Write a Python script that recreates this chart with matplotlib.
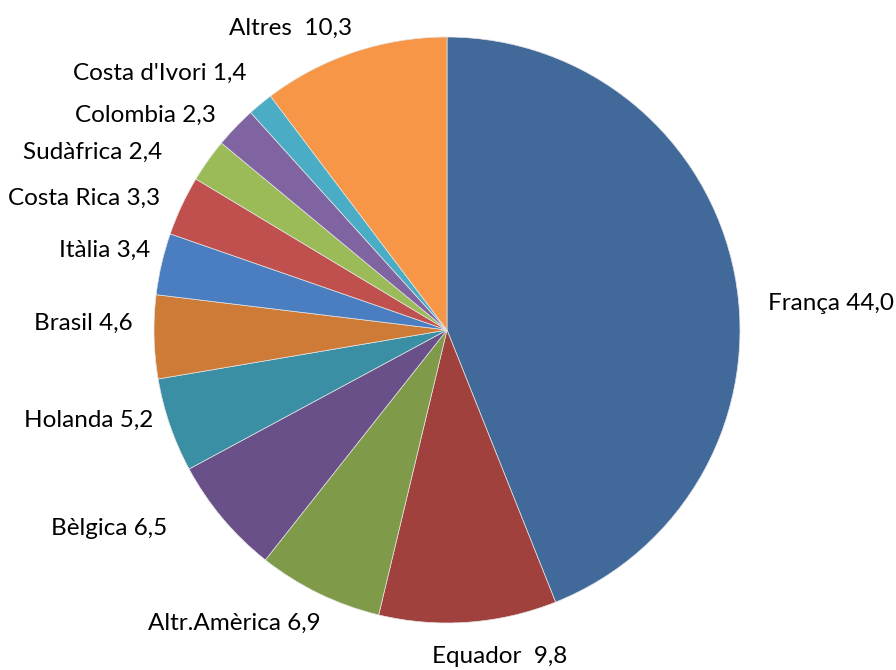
import matplotlib
matplotlib.use('Agg')
import matplotlib.pyplot as plt

# Pie data (percentages)
labels = ['França', 'Equador', 'Altr.Amèrica', 'Bèlgica', 'Holanda', 'Brasil',
          'Itàlia', 'Costa Rica', 'Sudàfrica', 'Colombia', "Costa d'Ivori", 'Altres']
values = [44.0, 9.8, 6.9, 6.5, 5.2, 4.6, 3.4, 3.3, 2.4, 2.3, 1.4, 10.3]
value_text = ['44,0', '9,8', '6,9', '6,5', '5,2', '4,6', '3,4', '3,3', '2,4', '2,3', '1,4', '10,3']
colors = ['#416A9B', '#A0413E', '#7F9A48', '#6A5088', '#3A8FA5', '#CF7B38',
          '#4A7EC0', '#C0504D', '#9BBB59', '#8064A2', '#4BACC6', '#F79646']

# label layout, in pie radius units (center = 0,0)
label_pos = [(1.096, 0.092, 'left'), (-0.051, -1.116, 'left'), (-0.433, -1.0, 'right'),
             (-0.956, -0.679, 'right'), (-1.003, -0.307, 'right'), (-1.072, 0.024, 'right'),
             (-1.014, 0.273, 'right'), (-0.980, 0.450, 'right'), (-0.973, 0.608, 'right'),
             (-0.788, 0.734, 'right'), (-0.683, 0.877, 'right'), (-0.324, 1.031, 'right')]
gap = {'Equador': '  ', 'Altres': '  '}

plt.rcParams['font.family'] = ['Lato', 'DejaVu Sans']

fig = plt.figure(figsize=(8.96, 6.70), dpi=100)
ax = fig.add_axes([0, 0, 1, 1])
ax.pie(values, colors=colors, startangle=90, counterclock=False, radius=1,
       wedgeprops=dict(edgecolor='#e4e4e4', linewidth=0.5))
ax.set_aspect('auto')
ax.set_xlim(-447 / 293, (896 - 447) / 293)
ax.set_ylim(-(670 - 330) / 293, 330 / 293)
ax.axis('off')

for lab, vt, (x, y, ha) in zip(labels, value_text, label_pos):
    ax.text(x, y, lab + gap.get(lab, ' ') + vt, ha=ha, va='center', fontsize=17.5, color='black')

fig.savefig('out.png', dpi=100)
